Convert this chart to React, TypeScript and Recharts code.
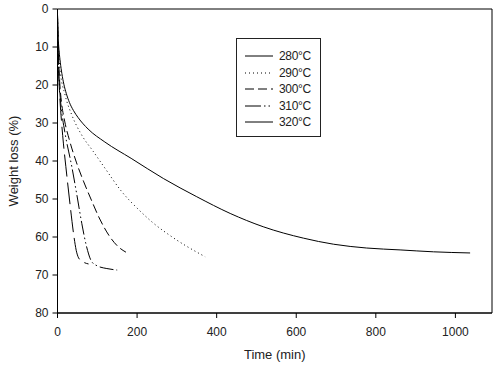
import { LineChart, Line, XAxis, YAxis, Label, ReferenceArea } from "recharts";

// time (min) / weight loss (%)
const t280 = [0, 1, 2, 4, 7, 11, 16, 22, 30, 40, 52, 77, 119, 185, 266, 350, 434, 517, 618, 694, 777, 861, 945, 1037];
const w280 = [1.5, 5, 8, 11, 14, 17, 19.8, 22.2, 24.6, 26.7, 28.6, 31.6, 35, 39.3, 44.6, 49.4, 53.8, 57.3, 60.3, 61.9, 62.9, 63.4, 63.9, 64.2];

const t290 = [0, 1, 3, 6, 19, 36, 61, 90, 120, 161, 203, 237, 291, 371];
const w290 = [1.5, 6, 11, 15.6, 22.6, 27.9, 33.2, 37.5, 42, 48, 52.7, 56, 60.2, 65.2];

const t300 = [0, 1, 3, 6, 10, 18, 30, 48, 66, 84, 105, 132, 152, 172];
const w300 = [1.5, 7, 14, 20, 24.5, 29.5, 34.5, 40.5, 45.5, 50, 55, 60, 62.5, 64];

const t310 = [0, 1, 3, 6, 10, 19, 36, 48, 61, 73, 86, 100, 124, 150];
const w310 = [1.5, 8, 16, 22, 26.5, 32.7, 41.5, 48.5, 56.4, 62.5, 66.5, 67.6, 68.3, 68.7];

const t320 = [0, 1, 3, 6, 10, 15, 21, 30, 41.5, 47, 53, 62, 78];
const w320 = [1.5, 9, 17, 23.5, 29.5, 35.5, 41.5, 50, 60, 63.5, 65.5, 66.4, 67.1];

const xTicks = [0, 200, 400, 600, 800, 1000];
const yTicks = [0, 10, 20, 30, 40, 50, 60, 70, 80];

const zip = (t: number[], w: number[]) => t.map((x, i) => ({ t: x, w: w[i] }));

const series = [
  { name: "280°C", data: zip(t280, w280), dash: undefined, legendDash: undefined },
  { name: "290°C", data: zip(t290, w290), dash: "1 3", legendDash: "1 3" },
  { name: "300°C", data: zip(t300, w300), dash: "9 4", legendDash: "9 4" },
  { name: "310°C", data: zip(t310, w310), dash: "14 3 1.5 3 1.5 3", legendDash: "16 3 1.5 3 1.5 3" },
  { name: "320°C", data: zip(t320, w320), dash: "22 6", legendDash: undefined },
];

const font = "'Liberation Sans', Arial, sans-serif";
const ink = "#222";

function LegendBox() {
  return (
    <div
      style={{
        position: "absolute",
        left: 236,
        top: 38,
        width: 85,
        height: 99,
        border: "1px solid #222",
        background: "#fff",
        boxSizing: "border-box",
        paddingTop: 9,
      }}
    >
      {series.map((s) => (
        <div key={s.name} style={{ display: "flex", alignItems: "center", height: 16.5 }}>
          <svg width={42} height={10} style={{ display: "block" }}>
            <line x1={8} x2={36} y1={5} y2={5} stroke="#000" strokeWidth={1} strokeDasharray={s.legendDash} />
          </svg>
          <span style={{ fontFamily: font, fontSize: 12, color: ink, letterSpacing: -0.3 }}>{s.name}</span>
        </div>
      ))}
    </div>
  );
}

export default function App() {
  return (
    <div style={{ position: "absolute", left: 0, top: 0, width: 500, height: 371, background: "#fff" }}>
      <LineChart width={500} height={371} margin={{ top: 9, right: 8, left: 0, bottom: 18 }}>
        <XAxis
          dataKey="t"
          type="number"
          domain={[0, 1092]}
          ticks={xTicks}
          allowDataOverflow
          stroke="#000"
          tickSize={5}
          tickMargin={9}
          height={40}
          tick={{ fill: ink, fontSize: 12, fontFamily: font }}
        >
          <Label value="Time (min)" position="bottom" offset={-3} style={{ fill: ink, fontSize: 13, fontFamily: font }} />
        </XAxis>
        <YAxis
          dataKey="w"
          type="number"
          domain={[0, 80]}
          reversed
          ticks={yTicks}
          width={57.5}
          stroke="#000"
          tickSize={5}
          tickMargin={4}
          tick={{ fill: ink, fontSize: 12, fontFamily: font }}
        >
          <Label
            value="Weight loss (%)"
            angle={-90}
            position="insideLeft"
            offset={13}
            style={{ fill: ink, fontSize: 13, fontFamily: font, textAnchor: "middle" }}
          />
        </YAxis>
        <ReferenceArea x1={0} x2={1092} y1={0} y2={80} fill="none" stroke="#000" strokeWidth={1} />
        {series.map((s) => (
          <Line
            key={s.name}
            data={s.data}
            dataKey="w"
            name={s.name}
            type="monotone"
            stroke="#000"
            strokeWidth={1}
            strokeDasharray={s.dash}
            dot={false}
            activeDot={false}
            isAnimationActive={false}
          />
        ))}
      </LineChart>
      <LegendBox />
    </div>
  );
}
